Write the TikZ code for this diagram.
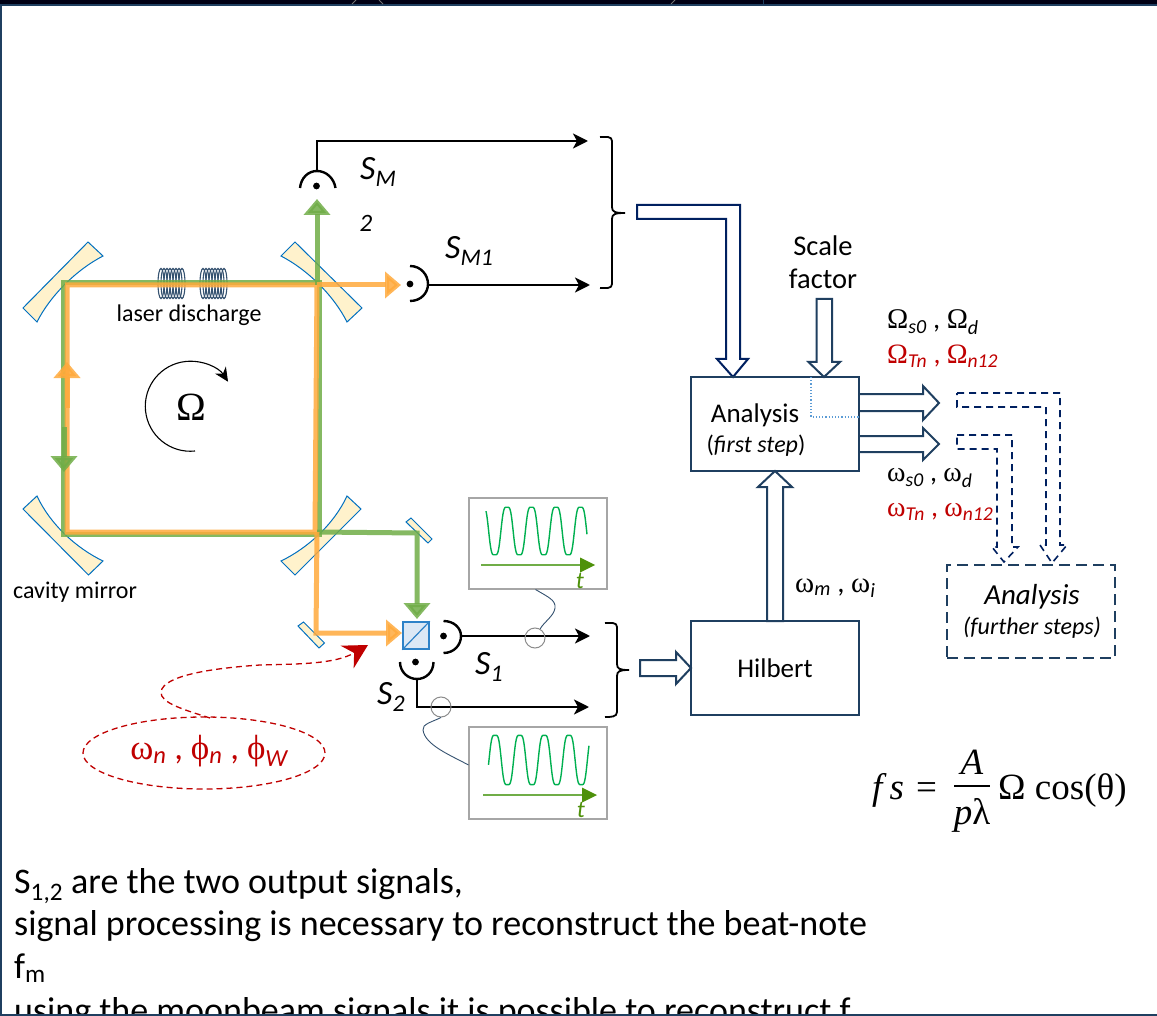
\documentclass[tikz,border=0pt]{standalone}
\usepackage{fontspec}
\setmainfont{Carlito}
\newfontfamily\grk{Liberation Serif}
\usetikzlibrary{shapes.geometric, arrows.meta, positioning, calc}
\definecolor{framenavy}{RGB}{31,63,96}
\definecolor{arrownavy}{RGB}{0,32,96}
\definecolor{mirrorfill}{RGB}{255,242,204}
\definecolor{mirrorblue}{RGB}{0,112,192}
\definecolor{cubefill}{RGB}{220,232,245}
\definecolor{cubeblue}{RGB}{46,130,200}
\definecolor{beamgreen}{RGB}{112,173,71}
\definecolor{beamorange}{RGB}{255,170,60}
\definecolor{wavegreen}{RGB}{0,176,80}
\definecolor{axisgreen}{RGB}{78,145,10}
\definecolor{darkred}{RGB}{192,0,0}
\definecolor{dotblue}{RGB}{91,155,213}
\newcommand{\fsz}[1]{\fontsize{#1}{#1}\selectfont}
\tikzset{
  mirror/.style={draw=mirrorblue, fill=mirrorfill, line width=1pt, line join=miter},
  smallmirror/.style={draw=mirrorblue, fill=mirrorfill, line width=1pt},
  beamg/.style={draw=beamgreen, line width=5pt, opacity=.85},
  beamo/.style={draw=beamorange, line width=5pt, opacity=.85},
  tipg/.style={-{Triangle[length=16pt,width=26pt]}},
  signal/.style={draw=black, line width=2.4pt, -{Stealth[length=15pt,width=15pt,inset=4pt]}},
  detect/.style={draw=black, line width=2.4pt},
  block/.style={draw=framenavy, line width=2pt, align=center, inner sep=0pt},
  scopebox/.style={draw=black!35, line width=1.8pt, inner sep=0pt, minimum width=138pt},
  hollow/.style={draw=framenavy, line width=2pt, fill=white, line join=miter},
  hollowdash/.style={draw=arrownavy, line width=1.6pt, dashed, dash pattern=on 7pt off 5pt},
  lab/.style={inner sep=0pt, anchor=west},
  probe/.style={draw=black!45, line width=1pt, circle, minimum size=20pt, inner sep=0pt},
  lead/.style={draw=framenavy!90, line width=.9pt},
}
\begin{document}
\begin{tikzpicture}[x=1pt,y=-1pt]
\useasboundingbox (0,0) rectangle (1157,1016);
\fill[white] (0,0) rectangle (1157,1016);
% key points of the cavity
\coordinate (ctl) at (65,285);
\coordinate (ctr) at (317,285);
\coordinate (cbl) at (65,532);
\coordinate (cbr) at (317,532);
\coordinate (mfold) at (417,533);
\coordinate (ofold) at (316,633);
\coordinate (cube) at (416,635.5);
\coordinate (ds1) at (443.5,636);
\coordinate (ds2) at (415.5,662);
\coordinate (dsm) at (316.5,186);
\coordinate (dsm1) at (410,284);
% laser discharge
\foreach \xc in {161,164,167,170,173,176,179,182,203,206,209,212,215,218,221,224}
  \draw[framenavy!90, line width=1.1pt] (\xc,283.5) ellipse (3pt and 15pt);
% mirrors
\draw[mirror] (88,242) -- (103,256) .. controls (76,270) and (50,296) .. (37,322) -- (23,308) -- cycle;
\draw[mirror] (295,242) -- (281,256) .. controls (308,270) and (334,296) .. (347,322) -- (362,308) -- cycle;
\draw[mirror] (37,496) -- (23,509) -- (88.5,575) -- (103,561) .. controls (76,548) and (50,524) .. cycle;
\draw[mirror] (347,496) -- (361,509) -- (295,575) -- (281,561) .. controls (308,548) and (334,524) .. cycle;
\draw[smallmirror] (411,518) -- (406,522) -- (428,543) -- (432,539) -- cycle;
\draw[smallmirror] (303.5,622) -- (298,626) -- (319,648) -- (324.5,643) -- cycle;
% beams
\draw[beamg, line join=miter] ($(ctr)+(2,249)$) -- ($(cbl)+(-2,2)$) -- ($(ctl)+(-2,-2)$) -- ($(ctr)+(2,-2)$) -- cycle;
\draw[beamo, line join=miter] (ctl) -- (ctr) -- ($(cbr)+(-2,0)$) -- ($(cbl)+(2,0)$) -- ($(ctl)+(2,0)$) -- cycle;
\draw[beamg, tipg] (ctr) -- (317,199);
\draw[beamo, tipg] (ctr) -- (401,285);
\draw[beamg, tipg, line join=miter] (cbr) -- (mfold) -- (417,619);
\draw[beamo, tipg, line join=miter] (cbr) -- (ofold) -- (402,633);
\draw[beamo, tipg] (67,408) -- (67,362);
\draw[beamg, tipg] (64,427) -- (64,472);
% beam splitter
\node[draw=cubeblue, fill=cubefill, line width=1.5pt, minimum width=26pt, minimum height=27pt, inner sep=0pt] (splitter) at (cube) {};
\draw[cubeblue, line width=1.2pt] (splitter.south west) -- (splitter.north east);
% detectors
\fill (dsm) circle (3.4pt);
\fill (dsm1) circle (3.4pt);
\fill (ds1) circle (3.4pt);
\fill (ds2) circle (3.4pt);
\draw[detect] (300,188) .. controls (301,178) and (308,171) .. (317,171) .. controls (326,171) and (334,178) .. (335.5,188);
\draw[detect] (410,266) .. controls (421,266) and (428,275) .. (428,284) .. controls (428,293) and (421,301) .. (410,301);
\draw[detect] (443.5,621) .. controls (454,621) and (461,628) .. (461,636) .. controls (461,645) and (454,653) .. (443.5,653);
\draw[detect] (400,662) .. controls (400,672) and (408,679) .. (417,679) .. controls (426,679) and (433.5,672) .. (433.5,662);
\coordinate (osm) at (317,171);
\coordinate (osm1) at (428,285);
\coordinate (os1) at (461,636);
\coordinate (os2) at (417,679);
% signals
\draw[signal] (osm) |- (588,141);
\draw[signal] (osm1) -- (590,285);
\draw[signal] (os1) -- (590,636);
\draw[signal] (os2) |- (589,707);
\draw[black, line width=1.8pt] (600,137) .. controls (606,137) and (612,136) .. (612,141) -- (612,207) .. controls (612,212) and (615,213) .. (625,213) .. controls (615,213) and (612,214) .. (612,219) -- (612,284) .. controls (612,289) and (606,288) .. (600,288);
\draw[black, line width=1.8pt] (605,623) .. controls (611,623) and (617,622) .. (617,627) -- (617,664) .. controls (617,669) and (620,670) .. (629,670) .. controls (620,670) and (617,671) .. (617,676) -- (617,712) .. controls (617,717) and (611,717) .. (605,717);
% scopes
\node[scopebox, minimum height=91pt] (scopea) at (538,543.5) {};
\node[scopebox, minimum height=92pt] (scopeb) at (538,773) {};
\draw[wavegreen, line width=1.4pt] plot[domain=486:587, samples=160, smooth] (\x,{531-27*(sin((\x-500.9)/24.5*360)+.12*sin(3*(\x-500.9)/24.5*360))});
\draw[wavegreen, line width=1.4pt] plot[domain=488.5:589, samples=160, smooth] (\x,{760-28*(sin((\x-489)/24.6*360)+.12*sin(3*(\x-489)/24.6*360))});
\draw[beamgreen, line width=1.6pt] (481,565) -- (582,565);
\draw[beamgreen, line width=1.6pt] (483,795) -- (584,795);
\fill[axisgreen] (580,557.5) -- (595,565) -- (580,572.5) -- cycle;
\fill[axisgreen] (582,787.5) -- (597,795) -- (582,802.5) -- cycle;
\node[text=axisgreen, font=\fsz{24}\itshape, inner sep=0pt] (ta) at (580,581) {t};
\node[text=axisgreen, font=\fsz{24}\itshape, inner sep=0pt] (tb) at (581,810) {t};
\node[probe] (proba) at (535,638) {};
\node[probe] (probb) at (441,707) {};
\draw[lead] (535.5,589.5) .. controls (548,597) and (556,600) .. (555,608) .. controls (554,616) and (544,622) .. (proba);
\draw[lead] (probb.south) .. controls (432,722) and (422,724) .. (423,730) .. controls (425,745) and (450,755) .. (468.5,765);
% dashed red note
\node[draw=darkred, line width=1.3pt, dashed, dash pattern=on 6pt off 4pt, ellipse, minimum width=242pt, minimum height=72pt, inner sep=0pt] (noteell) at (204,753) {};
\node[text=darkred, font=\fsz{35}, inner sep=0pt] (notetxt) at (209,751) {{\grk ω}\textsubscript{\itshape n} , {\grk ϕ}\textsubscript{\itshape n} , {\grk ϕ}\textsubscript{\itshape W}};
\draw[draw=darkred, line width=1.3pt, dash pattern=on 6pt off 4pt, -{Stealth[length=24pt,width=26pt,inset=8pt]}] (210,718) .. controls (185,710) and (160,703) .. (161,692) .. controls (163,675) and (215,668) .. (260,665) .. controls (300,664) and (335,664) .. (368,645);
% block arrows
\draw[hollow, draw=arrownavy] (637,205) -- (740,205) -- (740,359) -- (748,359) -- (733,377) -- (717,359) -- (726,359) -- (726,219) -- (637,219) -- cycle;
\draw[hollow] (816.5,299) -- (832,299) -- (832,362) -- (840,362) -- (824,377) -- (808.5,362) -- (816.5,362) -- cycle;
\draw[hollow] (640,660) -- (676,660) -- (676,652) -- (691,668) -- (676,684) -- (676,676) -- (640,676) -- cycle;
\draw[hollow] (767,621) -- (767,487) -- (758,487) -- (775,471) -- (792,487) -- (783,487) -- (783,621) -- cycle;
% boxes
\node[block, minimum width=168pt, minimum height=94pt] (first) at (775,424) {};
\node[block, minimum width=168pt, minimum height=94pt] (hilb) at (775,668) {\fsz{27}Hilbert};
\node[block, dashed, dash pattern=on 11pt off 6pt, minimum width=168pt, minimum height=93pt] (further) at (1031,611.5) {};
\draw[hollow] (first.east |- 0,394) -- (923,394) -- (923,386) -- (939,403) -- (923,420) -- (923,411) -- (first.east |- 0,411);
\draw[hollow] (first.east |- 0,436) -- (923,436) -- (923,428) -- (939,444) -- (923,460) -- (923,452) -- (first.east |- 0,452);
\draw[dotblue, line width=1.2pt, dotted] (811,377) -- (811,417) -- (860,417);
\draw[hollowdash] (957,393) -- (1060,393) -- (1060,545) -- (1067,545) -- (1052,563) -- (1040,545) -- (1046,545) -- (1046,407) -- (957,407) -- cycle;
\draw[hollowdash] (957,435) -- (1012,435) -- (1012,547) -- (1018,547) -- (1004,562) -- (992,547) -- (997,547) -- (997,449) -- (957,449) -- cycle;
% texts
\node[font=\fsz{27}, inner sep=0pt] (fname) at (755,415) {Analysis};
\node[font=\fsz{24}, inner sep=0pt] (fstep) at (756,446) {(\textit{first step})};
\node[font=\fsz{29}\itshape, inner sep=0pt] (gname) at (1032,597) {Analysis};
\node[font=\fsz{24}\itshape, inner sep=0pt] (gstep) at (1032,628) {(further steps)};
\node[font=\fsz{28.5}, inner sep=0pt] (scalea) at (823,246) {Scale};
\node[font=\fsz{28.5}, inner sep=0pt] (scaleb) at (823,279) {factor};
\node[font=\fsz{24}, inner sep=0pt] (ldis) at (189,315) {laser discharge};
\node[font=\fsz{24}, inner sep=0pt] (cmir) at (75,592) {cavity mirror};
\node[font=\grk\fsz{40}, inner sep=0pt] (omega) at (191,407) {Ω};
\draw[black, line width=1.1pt, -{Stealth[length=14pt,width=13pt]}] (195,451) arc[start angle=84, end angle=327, radius=45];
\node[lab, font=\fsz{34}] (lsm) at (360,172) {\textit{S}\textsubscript{\itshape M}};
\node[font=\fsz{25}\itshape, inner sep=0pt] (lsmb) at (366,223) {2};
\node[lab, font=\fsz{34}] (lsm1) at (445,251) {\textit{S}\textsubscript{\itshape M1}};
\node[lab, font=\fsz{34}] (ls1) at (475,667) {\textit{S}\textsubscript{\itshape 1}};
\node[lab, font=\fsz{34}] (ls2) at (377,697) {\textit{S}\textsubscript{\itshape 2}};
\node[lab, font=\fsz{28.5}] (wa) at (887,322) {{\grk Ω}\textsubscript{\itshape s0} , {\grk Ω}\textsubscript{\itshape d}};
\node[lab, font=\fsz{28}, text=darkred] (wb) at (887,356) {{\grk Ω}\textsubscript{\itshape Tn} , {\grk Ω}\textsubscript{\itshape n12}};
\node[lab, font=\fsz{28}] (wc) at (887,478) {{\grk ω}\textsubscript{\itshape s0} , {\grk ω}\textsubscript{\itshape d}};
\node[lab, font=\fsz{28}, text=darkred] (wd) at (887,512) {{\grk ω}\textsubscript{\itshape Tn} , {\grk ω}\textsubscript{\itshape n12}};
\node[lab, font=\fsz{29}] (we) at (795,588) {{\grk ω}\textsubscript{\itshape m} , {\grk ω}\textsubscript{\itshape i}};
% scale factor relation
\node[lab, font=\grk\fsz{37}] (fsl) at (872,790) {\textit{f}\hspace{3pt}\textit{s}\hspace{12pt}=};
\node[font=\grk\fsz{37}\itshape, inner sep=0pt] (fnum) at (972,762) {A};
\node[font=\grk\fsz{37}, inner sep=0pt] (fden) at (972,815) {\textit{p}λ};
\draw[black, line width=1.3pt] (954,786) -- (990,786);
\node[lab, font=\grk\fsz{37}] (frest) at (998,790) {Ω cos(θ)};
% bottom text
\begin{scope}
\clip (0,0) rectangle (1157,1013);
\node[lab, font=\fsz{36}] (ta1) at (14,886) {S\textsubscript{1,2} are the two output signals,};
\node[lab, font=\fsz{36}] (ta2) at (14,926) {signal processing is necessary to reconstruct the beat-note};
\node[lab, font=\fsz{36}] (ta3) at (14,968) {f\textsubscript{m}};
\node[lab, font=\fsz{36}] (ta4) at (14,1013) {using the moonbeam signals it is possible to reconstruct f};
\end{scope}
% frame
\fill[black!92!blue] (0,0) rectangle (1157,4.3);
\fill[framenavy] (0,4.3) rectangle (1157,6.3);
\fill[framenavy] (0,4.3) rectangle (2,1016);
\fill[framenavy] (0,1013.5) rectangle (1157,1016);
\draw[black!55, line width=.9pt] (352,4) -- (356,0);
\draw[black!55, line width=.9pt] (379,0) -- (383,4);
\draw[black!55, line width=.9pt] (671,4) -- (675,0);
\draw[framenavy, line width=.9pt] (763,0) -- (763,4);
\end{tikzpicture}
\end{document}
